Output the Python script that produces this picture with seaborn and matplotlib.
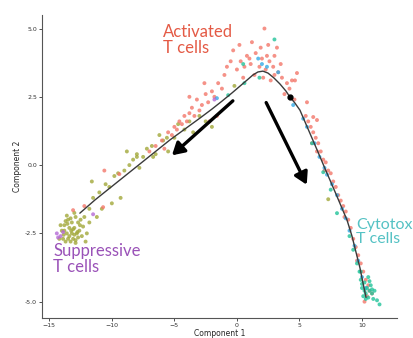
import matplotlib
matplotlib.use("Agg")
import matplotlib.pyplot as plt
import seaborn as sns
import pandas as pd

# ---- data ----
red_x = [2.2, 1.2, 2.5, -0.3, 0.8, 1.5, 2.0, 2.6, 3.0, 0.3, 0.0, 0.6, 1.1, 1.8, 2.3, 2.9, 3.3, 3.6, 4.0, 4.4,
         0.5, 1.0, 2.7, 3.8, 4.6, 3.2, 1.9, 0.2, 1.4, 2.1, 3.5, 4.2, 3.0, 2.4,
         -7.0, -6.5, -6.0, -5.8, -5.5, -5.2, -5.0, -4.8, -4.6, -4.4, -4.2, -4.0, -3.8, -3.6, -3.4, -3.2, -3.0, -2.8,
         -2.5, -2.3, -2.0, -1.8, -1.5, -1.2, -1.0, -0.8, -0.5, -2.6, -3.8, -1.6, -2.2,
         5.5, 5.7, 5.9, 6.1, 6.3, 6.5, 6.4, 6.7, 6.9, 7.1, 7.3, 7.5, 7.7, 7.9, 8.1, 8.3, 8.5, 8.7, 8.9, 9.1,
         9.3, 9.5, 9.7, 9.9, 10.1, 10.3, 10.5, 10.6, 10.4, 10.8, 10.2, 9.6, 8.6, 7.0, 6.0, 4.8, 4.64, 5.6, 6.1, 6.4,
         -10.6, -9.4, -13.1, -10.7, -12.2]
red_y = [5.0, 4.5, 4.4, 4.2, 4.0, 4.1, 3.9, 3.8, 4.0, 3.8, 3.5, 3.6, 3.7, 3.6, 3.5, 3.6, 3.4, 3.2, 3.0, 3.1,
         3.2, 3.9, 3.1, 2.6, 2.4, 4.3, 4.3, 4.4, 3.3, 3.2, 3.7, 2.8, 3.3, 4.0,
         0.5, 0.7, 0.9, 0.6, 1.2, 1.1, 1.4, 1.3, 1.6, 1.5, 1.8, 1.6, 1.9, 2.1, 1.8, 2.4, 2.0, 2.2,
         2.6, 2.3, 2.7, 2.5, 3.0, 2.8, 3.3, 3.6, 3.8, 3.0, 2.5, 1.8, 1.6,
         1.8, 1.6, 1.4, 1.2, 1.0, 0.8, 0.5, 0.5, 0.2, 0.1, -0.2, -0.3, -0.6, -0.8, -1.1, -1.3, -1.5, -1.7, -2.0, -2.3,
         -2.7, -3.0, -3.3, -3.6, -3.9, -4.2, -4.4, -4.6, -4.8, -4.7, -5.0, -3.5, -1.9, -0.2, 0.8, 3.37, 3.1, 2.3, 1.76, 1.65,
         -0.2, -0.33, -1.65, -1.54, -1.5]

olive_x = [-13.5, -13.2, -12.9, -13.8, -13.4, -13.0, -12.7, -13.6, -13.2, -12.8, -14.0, -13.5, -13.1, -12.6, -13.9,
           -13.3, -12.9, -14.2, -13.7, -12.5, -13.0, -13.6, -12.3, -12.4, -13.8, -13.4, -12.7, -13.1, -13.7, -12.2,
           -12.1, -12.9, -12.0, -11.8, -14.1, -13.0, -13.55, -12.75, -13.3, -12.55, -13.85, -13.25,
           -11.8, -11.5, -11.0, -10.8, -10.5, -10.2, -9.8, -9.5, -9.0, -8.6, -8.3, -8.0, -7.8, -7.5, -7.2, -8.8,
           -9.3, -11.2, -11.6, -10.0, -6.8, -6.5, -6.2, -5.9, -5.5, -5.0, -4.7, -4.2, -3.8, -3.5, -3.0, -2.5, -2.0,
           -8.0, -6.7, -5.6, -0.2, 7.3]
olive_y = [-2.0, -2.1, -1.9, -2.2, -2.3, -2.3, -2.1, -2.5, -2.5, -2.5, -2.4, -2.7, -2.7, -2.4, -2.7,
           -2.8, -2.75, -2.7, -2.8, -2.0, -1.75, -1.85, -2.25, -2.6, -2.4, -2.6, -2.65, -2.35, -2.05, -1.9,
           -2.8, -2.85, -2.5, -2.1, -2.2, -2.55, -2.15, -2.45, -1.95, -2.2, -2.55, -2.4,
           -1.6, -1.2, -1.0, -1.6, -0.7, -0.8, -0.4, -0.3, -0.2, 0.0, 0.2, 0.4, -0.1, 0.3, 0.6, 0.5,
           -1.2, -1.9, -0.6, -1.4, 0.7, 0.4, 1.1, 0.9, 0.5, 1.0, 1.5, 1.3, 1.6, 1.2, 1.8, 1.6, 1.4,
           0.3, 0.3, 1.0, 2.9, -1.25]

green_x = [10.2, 10.4, 10.0, 10.6, 10.3, 10.8, 10.1, 10.5, 10.9, 10.3, 10.7, 9.9, 10.5, 11.0, 11.2, 11.4, 10.8,
           10.2, 9.8, 10.6, 10.0, 6.0, 6.9, 8.0, 7.5, 9.0, 9.3, 9.6, 9.9, 3.0, 0.5, 0.6, 1.8, -0.7]
green_y = [-4.3, -4.5, -4.5, -4.6, -4.7, -4.7, -4.8, -4.85, -4.9, -4.9, -4.4, -4.2, -4.1, -4.6, -4.95, -5.1, -4.55,
           -4.6, -3.9, -4.25, -4.35, 0.8, -0.26, -1.76, -0.9, -2.6, -3.1, -3.6, -3.9, 4.6, 3.7, 3.0, 3.2, 2.56]

blue_x = [5.3, 5.6, 6.2, 6.6, 7.0, 7.2, 7.6, 8.0, 8.4, 8.7, 9.0, 9.4, 9.7, 10.0, 10.3, 2.0, 1.7, 2.4, 4.5, -1.6, 3.3]
blue_y = [1.7, 1.4, 0.8, 0.3, -0.1, -0.35, -0.7, -1.1, -1.6, -1.95, -2.4, -2.95, -3.5, -4.1, -4.5, 3.7, 3.9, 3.6,
          2.2, 2.45, 3.4]

purple_x = [-14.4, -14.1, -14.3, -13.9, -11.5, -1.8]
purple_y = [-2.5, -2.6, -2.65, -2.45, -1.8, 2.4]

traj_x = [-12.56, -11.36, -10.16, -8.96, -7.76, -6.56, -5.36, -4.16, -2.96, -2.0, -1.2, -0.4, 0.24, 0.8, 1.28,
          1.68, 2.08, 2.48, 2.96, 3.44, 3.92, 4.24, 4.64, 5.04, 5.52, 6.0, 6.48, 6.96, 7.44, 7.92, 8.4, 8.8,
          9.2, 9.52, 9.84, 10.08, 10.32]
traj_y = [-1.76, -1.28, -0.84, -0.40, 0.04, 0.48, 0.92, 1.32, 1.72, 2.05, 2.34, 2.64, 2.89, 3.11, 3.30,
          3.41, 3.44, 3.37, 3.19, 2.97, 2.71, 2.49, 2.27, 2.01, 1.50, 0.99, 0.48, -0.04, -0.55, -1.06, -1.58, -2.01,
          -2.60, -3.19, -3.77, -4.32, -4.84]

branch_x = [4.24]
branch_y = [2.49]

arrows = [((-0.16, 2.42), (-5.36, 0.29)), ((2.24, 2.38), (5.68, -0.81))]

palette = {"1": "#F3776A", "2": "#A2A83A", "3": "#22C39A", "4": "#35AAE6", "5": "#B56AD6"}

# ---- build table ----
frames = []
for st, xs, ys in [("2", olive_x, olive_y), ("1", red_x, red_y), ("4", blue_x, blue_y),
                   ("3", green_x, green_y), ("5", purple_x, purple_y)]:
    frames.append(pd.DataFrame({"x": xs, "y": ys, "State": st}))
df = pd.concat(frames, ignore_index=True)
traj = pd.DataFrame({"x": traj_x, "y": traj_y})

sns.set_theme(style="white")
fig = plt.figure(figsize=(4.14, 3.38), dpi=100)
ax = fig.add_axes([0.101, 0.059, 0.858, 0.897])

sns.scatterplot(data=df, x="x", y="y", hue="State", palette=palette, s=8, alpha=0.8,
                edgecolor="none", legend=False, ax=ax)
sns.lineplot(data=traj, x="x", y="y", sort=False, color="#3a3a3a", lw=1.0, ax=ax, estimator=None)
ax.plot(branch_x, branch_y, "o", color="black", ms=3.5)

for (x0, y0), (x1, y1) in arrows:
    ax.annotate("", xy=(x1, y1), xytext=(x0, y0),
                arrowprops=dict(arrowstyle="-|>,head_length=0.6,head_width=0.35", color="black", lw=2.4))

txt_font = ["Lato", "DejaVu Sans"]
ax.text(-5.9, 5.15, "Activated\nT cells", color="#E45A45", fontsize=12, family=txt_font,
        va="top", ha="left", linespacing=1.0)
ax.text(-14.7, -2.85, "Suppressive\nT cells", color="#9A52B8", fontsize=12, family=txt_font,
        va="top", ha="left", linespacing=1.0)
ax.text(9.55, -1.95, "Cytotox\nT cells", color="#55C2C4", fontsize=11.5, family=txt_font,
        va="top", ha="left", linespacing=1.0)

ax.set_xlim(-15.6, 12.8)
ax.set_ylim(-5.6, 5.5)
ax.set_xticks([-15, -10, -5, 0, 5, 10])
ax.set_yticks([-5.0, -2.5, 0.0, 2.5, 5.0])
ax.set_yticklabels(["-5.0", "-2.5", "0.0", "2.5", "5.0"])
ax.tick_params(axis="both", labelsize=4.5, length=2, width=0.6, direction="out", pad=1.5,
               left=True, bottom=True, colors="#333333")
ax.set_xlabel("Component 1", fontsize=5.5, labelpad=1)
ax.set_ylabel("Component 2", fontsize=5.5, labelpad=2)
for side in ["top", "right"]:
    ax.spines[side].set_visible(False)
for side in ["left", "bottom"]:
    ax.spines[side].set_color("#555555")
    ax.spines[side].set_linewidth(0.8)

fig.savefig("out.png", dpi=100)
